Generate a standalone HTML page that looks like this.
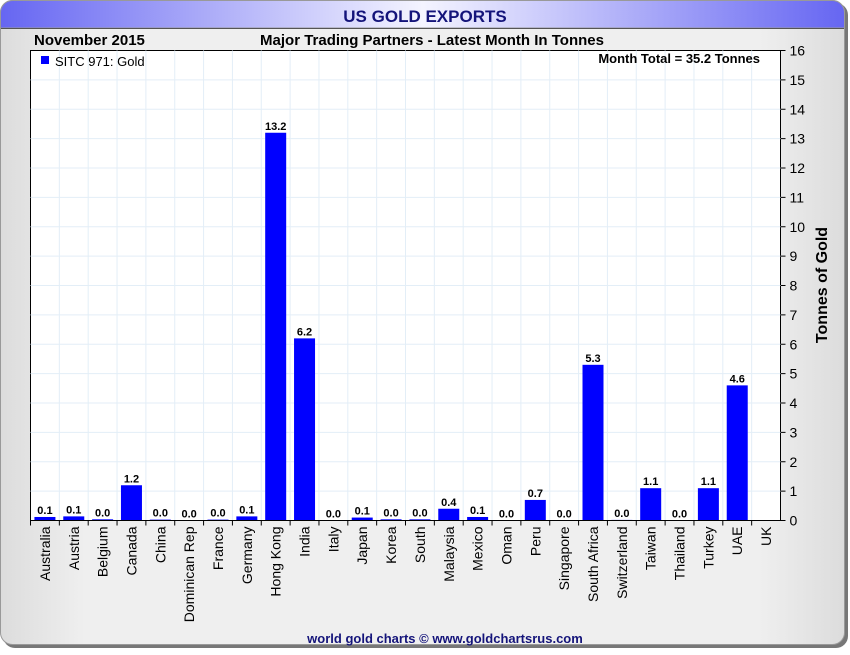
<!DOCTYPE html>
<html><head><meta charset="utf-8"><style>
body{margin:0;width:850px;height:650px;overflow:hidden;background:#fff;font-family:"Liberation Sans",sans-serif}
</style></head><body>
<svg width="850" height="650" id="c">
<defs>
<linearGradient id="tb" x1="0" x2="1"><stop offset="0" stop-color="#6666f2"/><stop offset="0.5" stop-color="#f4f4ff"/><stop offset="1" stop-color="#6666f2"/></linearGradient>
<linearGradient id="bg" x1="0" x2="1"><stop offset="0" stop-color="#dcdcdc"/><stop offset="0.1" stop-color="#efefef"/><stop offset="0.9" stop-color="#efefef"/><stop offset="1" stop-color="#dcdcdc"/></linearGradient>
</defs>
<rect x="3" y="3" width="845" height="645" rx="12" fill="#777"/>
<rect x="0.5" y="0.5" width="844" height="644" rx="12" fill="url(#bg)" stroke="#999"/>
<path d="M0.5 28 V12.5 A12 12 0 0 1 12.5 0.5 H832.5 A12 12 0 0 1 844.5 12.5 V28 Z" fill="url(#tb)" stroke="#999"/>
<line x1="1" y1="28.5" x2="844" y2="28.5" stroke="#555"/>
<text x="425" y="22" text-anchor="middle" font-size="17" font-weight="bold" fill="#14147a">US GOLD EXPORTS</text>
<text x="34" y="45" font-size="15" font-weight="bold" fill="#000">November 2015</text>
<text x="432" y="45" text-anchor="middle" font-size="15" font-weight="bold" fill="#000">Major Trading Partners - Latest Month In Tonnes</text>
<rect x="30.5" y="50.5" width="750" height="470" fill="#fff" stroke="#000"/>
<g id="grid"></g><g id="bars"></g><g id="axes"></g>
<rect x="41" y="56" width="8" height="8" fill="#0000ff"/>
<text x="55" y="66" font-size="13" fill="#000">SITC 971: Gold</text>
<text x="760" y="63" text-anchor="end" font-size="13" font-weight="bold" fill="#000">Month Total = 35.2 Tonnes</text>
<text transform="translate(827,285) rotate(-90)" text-anchor="middle" font-size="16" font-weight="bold" fill="#000">Tonnes of Gold</text>
<text x="445" y="643" text-anchor="middle" font-size="13" font-weight="bold" fill="#14147a">world gold charts © www.goldchartsrus.com</text>
</svg>
<script>
const categories=["Australia","Austria","Belgium","Canada","China","Dominican Rep","France","Germany","Hong Kong","India","Italy","Japan","Korea","South","Malaysia","Mexico","Oman","Peru","Singapore","South Africa","Switzerland","Taiwan","Thailand","Turkey","UAE","UK"];
const values=[0.12,0.14,0.04,1.2,0.03,0.0,0.03,0.14,13.2,6.2,0.0,0.1,0.04,0.04,0.4,0.12,0.0,0.7,0.0,5.3,0.02,1.1,0.0,1.1,4.6,null];
const yTicks=[0,1,2,3,4,5,6,7,8,9,10,11,12,13,14,15,16];
const NS="http://www.w3.org/2000/svg";
const L=30.5,R=780.5,T=50.5,B=520.5,yMax=16;
const bw=(R-L)/categories.length;
const y=v=>B-(v/yMax)*(B-T);
const x=i=>L+i*bw;
function mk(tag,a,p){const e=document.createElementNS(NS,tag);for(const k in a)e.setAttribute(k,a[k]);p.appendChild(e);return e;}
const grid=document.getElementById('grid'),bars=document.getElementById('bars'),axes=document.getElementById('axes');
yTicks.forEach(t=>{
 if(t>0&&t<yMax){const g=mk('line',{x1:L,x2:R,y1:y(t),y2:y(t),stroke:'#e3eef7'},grid);
 
 }
 const tk=mk('line',{x1:R,x2:R+5,y1:y(t),y2:y(t),stroke:'#000'},axes);
 
 
 const lb=mk('text',{x:R+9,y:y(t)+5,'font-size':14,fill:'#000'},axes);lb.textContent=t;
 
 
});
categories.forEach((c,i)=>{
 if(i>0){const g=mk('line',{x1:x(i),x2:x(i),y1:T,y2:B,stroke:'#e3eef7'},grid);
 
 }
 const tk=mk('line',{x1:x(i),x2:x(i),y1:B,y2:B+5,stroke:'#000'},axes);
 
 
 const cx=x(i)+bw/2;
 const lb=mk('text',{transform:`translate(${cx+5},${B+6}) rotate(-90)`,'text-anchor':'end','font-size':14,fill:'#000'},axes);lb.textContent=c;
 
 
 const v=values[i];
 if(v!==null){
  const h=Math.max(0,B-y(v));
  const b=mk('rect',{x:cx-10.5,y:B-h,width:21,height:h,fill:'#0000ff'},bars);
  
  
  const vl=mk('text',{x:cx,y:B-h-3,'text-anchor':'middle','font-size':11,'font-weight':'bold',fill:'#000'},bars);vl.textContent=v.toFixed(1);
  
  
 }
});
const ax=mk('line',{x1:L,x2:R,y1:B,y2:B,stroke:'#000'},axes);


</script>
</body></html>
